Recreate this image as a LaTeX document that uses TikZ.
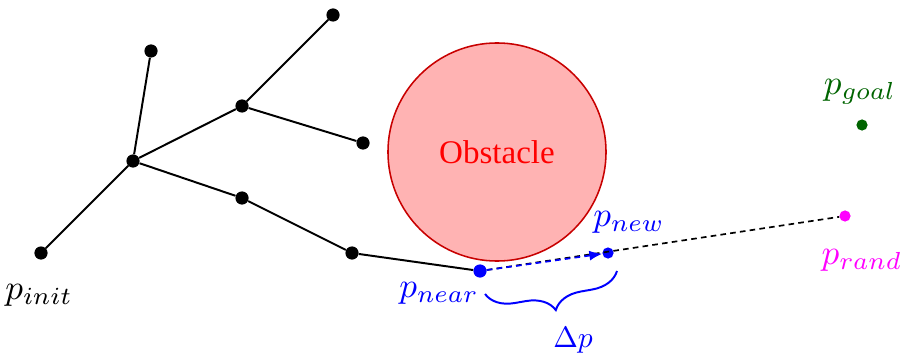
\documentclass[tikz,border=0pt]{standalone}
\usepackage{fontspec}
\newfontfamily\obsfont{Liberation Serif}
\usetikzlibrary{arrows.meta,decorations.pathreplacing}
\definecolor{obsfill}{RGB}{255,179,179}
\definecolor{obsdraw}{RGB}{200,0,0}
\definecolor{goalgreen}{RGB}{0,100,0}
\definecolor{randmag}{RGB}{255,0,255}
\definecolor{myblue}{RGB}{0,0,255}
\tikzset{
  dot/.style={circle,fill=black,inner sep=0pt,minimum size=0.33cm},
  smalldot/.style={dot,minimum size=0.28cm},
  edge/.style={line width=1.4pt},
  lbl/.style={scale=2.5},
}
\begin{document}
\begin{tikzpicture}[x=0.025cm,y=-0.025cm]
\useasboundingbox (0,0) rectangle (902,361);
\node[circle,draw=obsdraw,fill=obsfill,line width=1.1pt,minimum size=5.45cm,inner sep=0pt,text=red,font={\obsfont\fontsize{23.5}{28}\selectfont}] (obs) at (497,152) {Obstacle};
\node[dot] (init) at (41,253) {};
\node[dot] (root) at (133,161) {};
\node[dot] (leafa) at (151,51) {};
\node[dot] (mid) at (242,106) {};
\node[dot] (top) at (333,15) {};
\node[dot] (leafb) at (363,143) {};
\node[dot] (low) at (242,198) {};
\node[dot] (low2) at (352,253) {};
\node[dot,fill=myblue] (near) at (480,271) {};
\node[smalldot,fill=myblue] (new) at (608,253) {};
\node[smalldot,fill=randmag] (rand) at (845,216) {};
\node[smalldot,fill=goalgreen] (goal) at (862,125) {};
\draw[edge] (init) -- (root) -- (leafa);
\draw[edge] (root) -- (mid) -- (top);
\draw[edge] (mid) -- (leafb);
\draw[edge] (root) -- (low) -- (low2) -- (near);
\draw[line width=1.2pt,dash pattern=on 4pt off 3pt] (near) -- (rand);
\draw[line width=1.2pt,dash pattern=on 4pt off 3pt,myblue,-{Latex[length=0.32cm,width=0.25cm]}] (near) -- (new);
\node[lbl] (linit) at (39,295) {$p_{init}$};
\node[lbl,text=myblue] (lnear) at (439,293) {$p_{near}$};
\node[lbl,text=myblue] (lnew) at (629,222) {$p_{new}$};
\node[lbl,text=randmag] (lrand) at (862,260) {$p_{rand}$};
\node[lbl,text=goalgreen] (lgoal) at (860,92) {$p_{goal}$};
\coordinate (bra) at (617,271);
\coordinate (brb) at (485,294);
\draw[myblue,line width=1.4pt,decorate,decoration={brace,amplitude=0.7cm,aspect=0.5}] (bra) -- (brb);
\node[scale=2.1,text=myblue] (dp) at (573,340) {$\Delta p$};
\end{tikzpicture}
\end{document}
